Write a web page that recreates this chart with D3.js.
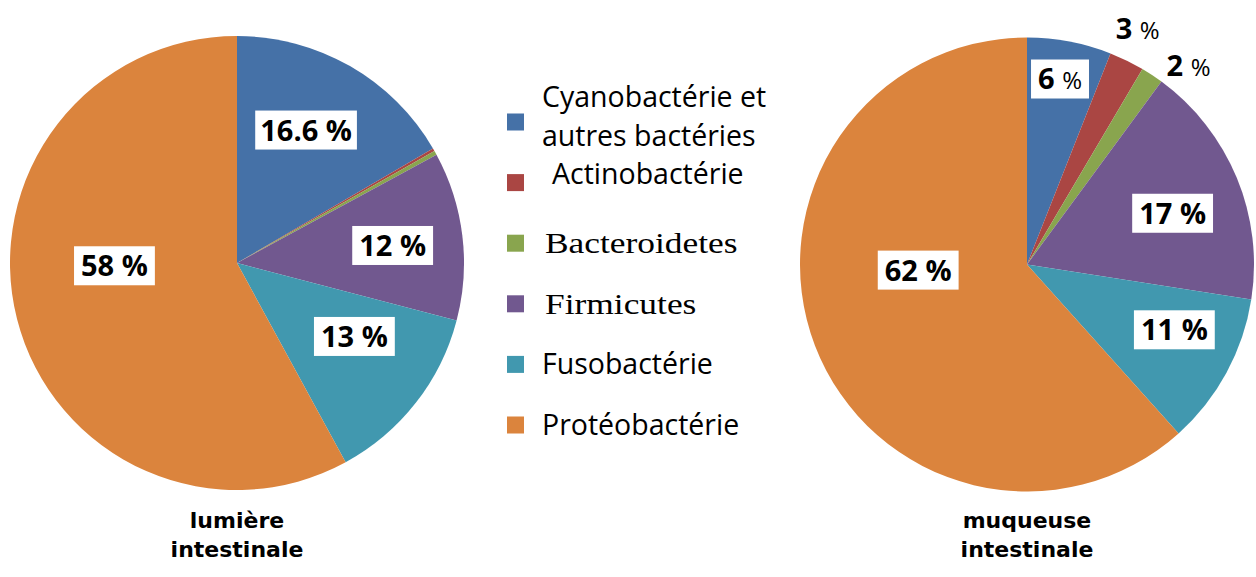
<!DOCTYPE html>
<html>
<head>
<meta charset="utf-8">
<script src="https://cdn.jsdelivr.net/npm/d3@7"></script>
<style>
  body { margin: 0; background: #fff; }
  svg { display: block; }
  text { white-space: pre; }
</style>
</head>
<body>
<svg></svg>
<script>
const width = 1256;
const height = 577;

// data
const categories = ['Cyanobactérie et autres bactéries', 'Actinobactérie', 'Bacteroidetes', 'Firmicutes', 'Fusobactérie', 'Protéobactérie'];
const lumiereValues = [16.6, 0.2, 0.3, 12, 13, 58];
const lumiereLabels = ['16.6 %', null, null, '12 %', '13 %', '58 %'];
const muqueuseValues = [6, 2.5, 1.6, 17.4, 10.9, 61.7];
const muqueuseLabels = ['6 %', '3 %', '2 %', '17 %', '11 %', '62 %'];
const pieTitles = [['lumière', 'intestinale'], ['muqueuse', 'intestinale']];

const colors = ['#4571a7', '#aa4643', '#89a54e', '#71588f', '#4198af', '#db843d'];
const serifItems = ['Bacteroidetes', 'Firmicutes'];

const radius = 227;

// where Excel put each label: fraction of radius + angle nudge (deg), boxed or not
const lumiereLayout = [
  {r: 0.66, da: -2.4, box: true}, null, null,
  {r: 0.69, da: 0.5, box: true},
  {r: 0.61, da: -6, box: true},
  {r: 0.54, da: 13, box: true}
];
const muqueuseLayout = [
  {r: 0.83, da: -0.7, box: true, small: true},
  {r: 1.15, da: -1, box: false, small: true},
  {r: 1.13, da: 5.6, box: false, small: true},
  {r: 0.68, da: 3, box: true},
  {r: 0.71, da: -4.6, box: true},
  {r: 0.48, da: 18, box: true}
];

const color = d3.scaleOrdinal().domain(categories).range(colors);

const svg = d3.select('svg')
    .attr('width', width)
    .attr('height', height);

svg.append('rect')
    .attr('width', width)
    .attr('height', height)
    .attr('fill', '#fff');

const pie = d3.pie().sort(null).value(d => d.value);
const arc = d3.arc().innerRadius(0).outerRadius(radius);

function drawPie(cx, cy, values, labels, layout, title) {
  const g = svg.append('g')
      .attr('transform', `translate(${cx},${cy})`);

  const arcs = pie(values.map((v, i) => ({cat: categories[i], value: v, label: labels[i], lay: layout[i]})));

  g.selectAll('path.slice')
    .data(arcs)
    .enter()
    .append('path')
      .classed('slice', true)
      .attr('d', arc)
      .attr('fill', d => color(d.data.cat));

  const lab = g.selectAll('g.lab')
    .data(arcs.filter(d => d.data.label))
    .enter()
    .append('g')
      .classed('lab', true)
      .attr('transform', d => {
        const a = (d.startAngle + d.endAngle) / 2 + d.data.lay.da * Math.PI / 180;
        const r = d.data.lay.r * radius;
        return `translate(${r * Math.sin(a)},${-r * Math.cos(a)})`;
      });

  lab.each(function(d) {
    const sel = d3.select(this);
    const rect = sel.append('rect').attr('fill', '#fff');
    const t = sel.append('text')
        .attr('text-anchor', 'middle')
        .attr('dy', '0.36em')
        .attr('font-family', '"Open Sans", sans-serif')
        .attr('font-weight', 'bold')
        .attr('font-size', 29)
        .attr('fill', '#000');
    const parts = d.data.label.split(' ');
    t.append('tspan').text(parts[0] + ' ');
    t.append('tspan')
        .text(parts[1])
        .attr('font-weight', d.data.lay.small ? 'normal' : 'bold')
        .attr('font-size', d.data.lay.small ? 24 : 29);
    if (d.data.lay.box) {
      const bb = t.node().getBBox();
      const pad = bb.width > 72 ? 5 : 7;
      rect.attr('x', bb.x - pad)
          .attr('y', -19.5)
          .attr('width', bb.width + 2 * pad)
          .attr('height', 39);
    } else {
      rect.remove();
    }
  });

  svg.append('g')
      .classed('pie-title', true)
    .selectAll('text')
    .data(title)
    .enter()
    .append('text')
      .attr('x', cx)
      .attr('y', (d, i) => 528 + i * 28.5)
      .attr('text-anchor', 'middle')
      .attr('font-family', '"DejaVu Sans", sans-serif')
      .attr('font-weight', 'bold')
      .attr('font-size', 22)
      .text(d => d);
}

drawPie(237, 263, lumiereValues, lumiereLabels, lumiereLayout, pieTitles[0]);
drawPie(1027, 264.5, muqueuseValues, muqueuseLabels, muqueuseLayout, pieTitles[1]);

// legend
const legendY = d3.scalePoint()
    .domain(categories)
    .range([122, 425]);

const legend = svg.append('g').classed('legend', true);

const item = legend.selectAll('g.item')
  .data(categories)
  .enter()
  .append('g')
    .classed('item', true)
    .attr('transform', d => `translate(507,${legendY(d)})`);

item.append('rect')
    .attr('y', -8.5)
    .attr('width', 17)
    .attr('height', 17)
    .attr('fill', d => color(d));

item.each(function(d, i) {
  const serif = serifItems.includes(d);
  const sel = d3.select(this);
  if (i === 0) {
    const t = sel.append('text')
        .attr('font-family', '"Open Sans", sans-serif')
        .attr('font-size', 28.5)
        .attr('fill', '#000');
    t.append('tspan').attr('x', 35).attr('y', -15).text('Cyanobactérie et');
    t.append('tspan').attr('x', 35).attr('y', 23.5).text('autres bactéries');
  } else if (serif) {
    sel.append('text')
        .attr('transform', 'translate(38,10) scale(1.18,1)')
        .attr('font-family', '"Liberation Serif", serif')
        .attr('font-size', 30)
        .attr('fill', '#000')
        .text(d);
  } else {
    const actino = d === 'Actinobactérie';
    sel.append('text')
        .attr('x', actino ? 45 : 35)
        .attr('y', actino ? 1.5 : 10)
        .attr('font-family', '"Open Sans", sans-serif')
        .attr('font-size', 28.5)
        .attr('fill', '#000')
        .text(d);
  }
});
</script>
</body>
</html>
